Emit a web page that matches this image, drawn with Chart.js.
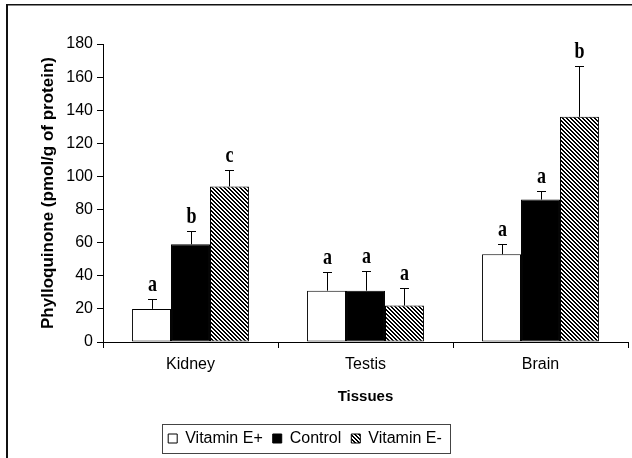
<!DOCTYPE html>
<html>
<head>
<meta charset="utf-8">
<script src="https://cdn.jsdelivr.net/npm/chart.js@4.4.1/dist/chart.umd.min.js"></script>
<style>
  html, body { margin: 0; padding: 0; background: #fff; }
  #wrap { position: relative; width: 632px; height: 458px; }
</style>
</head>
<body>
<div id="wrap"><canvas id="c" width="632" height="458"></canvas></div>
<script>
const categories = ['Kidney', 'Testis', 'Brain'];
const seriesNames = ['Vitamin E+', 'Control', 'Vitamin E-'];
const vitEPlus = [20, 31, 53];
const vitEPlusErr = [5.8, 11.3, 6];
const control = [59, 31, 86];
const controlErr = [8.2, 12, 5.5];
const vitEMinus = [94, 22, 136];
const vitEMinusErr = [10, 10.6, 31];
const vitEPlusLetters = ['a', 'a', 'a'];
const controlLetters = ['b', 'a', 'a'];
const vitEMinusLetters = ['c', 'a', 'b'];
const yTicks = [0, 20, 40, 60, 80, 100, 120, 140, 160, 180];

function makeHatch() {
  const size = 4;
  const pc = document.createElement('canvas');
  pc.width = size; pc.height = size;
  const pctx = pc.getContext('2d');
  const img = pctx.createImageData(size, size);
  for (let y = 0; y < size; y++) {
    for (let x = 0; x < size; x++) {
      const m = ((x - y) % size + size) % size;
      const black = m < 2;
      const i = (y * size + x) * 4;
      const v = black ? 0 : 255;
      img.data[i] = v; img.data[i + 1] = v; img.data[i + 2] = v; img.data[i + 3] = 255;
    }
  }
  pctx.putImageData(img, 0, 0);
  return document.getElementById('c').getContext('2d').createPattern(pc, 'repeat');
}
const hatch = makeHatch();

const errs = [vitEPlusErr, controlErr, vitEMinusErr];
const letters = [vitEPlusLetters, controlLetters, vitEMinusLetters];

const framePlugin = {
  id: 'frame',
  beforeDraw(chart) {
    const ctx = chart.ctx;
    ctx.save();
    ctx.fillStyle = '#111';
    ctx.fillRect(6, 4, 2, 454);
    ctx.fillRect(6, 4, 626, 1.5);
    ctx.restore();
  }
};

const errorPlugin = {
  id: 'errbars',
  afterDatasetsDraw(chart) {
    const ctx = chart.ctx;
    const yScale = chart.scales.y;
    ctx.save();
    chart.data.datasets.forEach((ds, di) => {
      const meta = chart.getDatasetMeta(di);
      meta.data.forEach((bar, i) => {
        const v = ds.data[i];
        const top = yScale.getPixelForValue(v + errs[di][i]);
        const base = yScale.getPixelForValue(v);
        const x = Math.round(bar.x) + 0.5;
        ctx.strokeStyle = '#000';
        ctx.lineWidth = 1;
        ctx.beginPath();
        ctx.moveTo(x, base);
        ctx.lineTo(x, Math.round(top) + 0.5);
        ctx.moveTo(x - 4.5, Math.round(top) + 0.5);
        ctx.lineTo(x + 4.5, Math.round(top) + 0.5);
        ctx.stroke();
        ctx.save();
        ctx.translate(x, top - 8);
        ctx.scale(1, 1.25);
        ctx.font = 'bold 18px "Liberation Serif", "Times New Roman", serif';
        ctx.fillStyle = '#000';
        ctx.textAlign = 'center';
        ctx.textBaseline = 'alphabetic';
        ctx.fillText(letters[di][i], 0, 0);
        ctx.restore();
      });
    });
    ctx.restore();
  }
};

const legendBoxPlugin = {
  id: 'legendBox',
  afterLayout(chart) {
    const lg = chart.legend;
    lg.left -= 26;
    lg.right -= 26;
  },
  afterDraw(chart) {
    const lg = chart.legend;
    const ctx = chart.ctx;
    const pad = lg.options.labels.padding;
    const w = lg.lineWidths[0] - pad;
    const cx = (lg.left + lg.right) / 2;
    const x0 = Math.round(cx - w / 2 - 6) + 0.5;
    const x1 = Math.round(cx + w / 2 + 8) + 0.5;
    ctx.save();
    ctx.strokeStyle = '#444';
    ctx.lineWidth = 1;
    ctx.strokeRect(x0, 424.5, x1 - x0, 29);
    ctx.restore();
  }
};

new Chart(document.getElementById('c'), {
  type: 'bar',
  data: {
    labels: categories,
    datasets: [
      { label: seriesNames[0], data: vitEPlus, backgroundColor: '#ffffff', borderColor: '#000', borderWidth: 1 },
      { label: seriesNames[1], data: control, backgroundColor: '#000000', borderColor: '#000', borderWidth: 1 },
      { label: seriesNames[2], data: vitEMinus, backgroundColor: hatch, borderColor: '#000', borderWidth: 1 }
    ]
  },
  options: {
    responsive: false,
    animation: false,
    devicePixelRatio: 1,
    layout: { padding: { left: 34, top: 44, right: 4, bottom: 1.5 } },
    datasets: { bar: { categoryPercentage: 0.668, barPercentage: 1.0, borderSkipped: false } },
    plugins: {
      tooltip: { enabled: false },
      legend: {
        position: 'bottom',
        labels: {
          color: '#000',
          boxWidth: 9,
          boxHeight: 9,
          padding: 10,
          font: { family: '"Liberation Sans", Arial, sans-serif', size: 16 }
        }
      }
    },
    scales: {
      x: {
        offset: true,
        grid: { offset: true, drawOnChartArea: false, tickLength: 6, color: '#000' },
        border: { color: '#000', width: 1 },
        ticks: { color: '#000', padding: 7, font: { family: '"Liberation Sans", Arial, sans-serif', size: 16 } },
        title: { display: true, text: 'Tissues', color: '#000', padding: { top: 0, bottom: 14.5 },
                 font: { family: '"Liberation Sans", Arial, sans-serif', size: 15, weight: 'bold' } },
        afterFit(scale) { scale.height = 78.5; }
      },
      y: {
        min: 0, max: 180,
        afterBuildTicks(scale) { scale.ticks = yTicks.map(v => ({ value: v })); },
        grid: { drawOnChartArea: false, tickLength: 6, color: '#000' },
        border: { color: '#000', width: 1 },
        ticks: { color: '#000', padding: 4, font: { family: '"Liberation Sans", Arial, sans-serif', size: 16 } },
        title: { display: true, text: 'Phylloquinone (pmol/g of protein)', color: '#000', padding: { top: 4, bottom: 0 },
                 font: { family: '"Liberation Sans", Arial, sans-serif', size: 17, weight: 'bold' } },
        afterFit(scale) { scale.width = 69; }
      }
    }
  },
  plugins: [framePlugin, errorPlugin, legendBoxPlugin]
});
</script>
</body>
</html>
